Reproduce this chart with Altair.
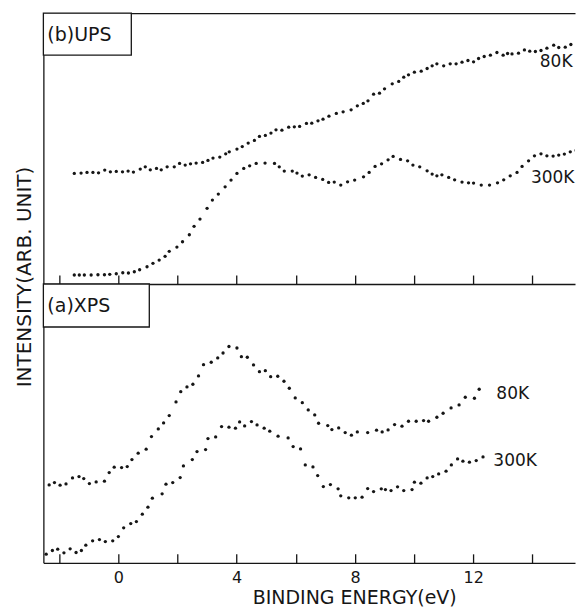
import altair as alt
import pandas as pd

# ---------------- data ----------------
# (b) UPS, 80 K
ups_80k_e = [-1.49, -1.26, -1.06, -0.86, -0.67, -0.46, -0.27, -0.07, 0.14, 0.33,
             0.51, 0.74, 0.91, 1.08, 1.29, 1.45, 1.65, 1.89, 2.07, 2.26,
             2.44, 2.63, 2.85, 3.03, 3.20, 3.43, 3.63, 3.75, 4.01, 4.19,
             4.39, 4.60, 4.77, 4.97, 5.16, 5.33, 5.53, 5.76, 5.95, 6.13,
             6.36, 6.54, 6.75, 6.92, 7.12, 7.37, 7.60, 7.87, 8.08, 8.28,
             8.44, 8.63, 8.83, 9.00, 9.26, 9.48, 9.65, 9.81, 10.01, 10.24,
             10.44, 10.61, 10.77, 11.00, 11.22, 11.42, 11.62, 11.82, 12.01, 12.18,
             12.37, 12.58, 12.80, 13.01, 13.16, 13.31, 13.53, 13.73, 13.91, 14.10,
             14.29, 14.49, 14.72, 14.89, 15.11, 15.30, 15.51, 15.68]
ups_80k_i = [110.7, 111, 111.7, 111.7, 111.3, 114, 112.3, 112.7, 112.3, 113,
             112, 115, 117.3, 114.3, 115.7, 114.3, 117.3, 117.3, 120.7, 119,
             120.3, 121, 121.7, 123.7, 126, 127, 130.3, 132.3, 135, 137.5,
             141, 143.7, 147.7, 148.7, 151, 154.3, 154, 157, 157.3, 157.7,
             160.7, 161, 163.3, 165, 168, 170.7, 172.3, 174.3, 178.3, 180.7,
             183.3, 190, 191, 195.3, 200.3, 202.7, 207, 209.3, 212, 213,
             215.7, 218.3, 220.3, 218.3, 220.3, 220.3, 222, 223.7, 222.3, 225.7,
             227.7, 229, 231.7, 229, 230.7, 230.3, 231, 234.3, 233, 232.7,
             233.7, 236, 239, 236.7, 237, 239.7, 239.3, 241]

# (b) UPS, 300 K
ups_300k_e = [-1.49, -1.32, -1.15, -0.92, -0.69, -0.47, -0.29, -0.07, 0.15, 0.34,
              0.54, 0.72, 0.97, 1.17, 1.38, 1.58, 1.72, 1.98, 2.17, 2.40,
              2.56, 2.76, 3.00, 3.18, 3.38, 3.61, 3.81, 4.01, 4.24, 4.44,
              4.66, 4.96, 5.28, 5.44, 5.61, 5.88, 6.04, 6.22, 6.45, 6.67,
              6.91, 7.11, 7.30, 7.52, 7.75, 7.99, 8.29, 8.48, 8.68, 8.90,
              9.12, 9.29, 9.54, 9.78, 9.96, 10.19, 10.44, 10.61, 10.77, 10.94,
              11.17, 11.37, 11.62, 11.84, 12.01, 12.27, 12.55, 12.82, 13.03, 13.25,
              13.48, 13.65, 13.87, 14.07, 14.29, 14.49, 14.70, 14.89, 15.08, 15.28,
              15.48, 15.71]
ups_300k_i = [9, 9, 9, 9, 9.3, 9.3, 9.7, 10.3, 11.3, 11,
              12.3, 14.3, 17.3, 20.7, 24, 27.7, 32.7, 37, 42.3, 49.3,
              57.7, 65, 75.7, 84, 90, 97.3, 104, 110.7, 115.7, 118.3,
              120.7, 121, 120.7, 117.3, 113, 113, 111, 108, 109.3, 106.7,
              104.7, 101.7, 102, 99, 102.3, 104, 107.3, 111.7, 117.7, 120.3,
              124.3, 127.7, 124.7, 123.3, 119, 117.3, 113.3, 110, 108.3, 109.3,
              106.7, 104.3, 102, 101.3, 101, 99, 99, 101.3, 104.3, 108.3,
              111.7, 117.7, 123.3, 128.3, 130.3, 128.3, 128, 129, 130, 132.3,
              133.7, 136.7]

# (a) XPS, 80 K
xps_80k_e = [-2.34, -2.16, -1.97, -1.77, -1.55, -1.33, -1.17, -0.98, -0.75, -0.47,
             -0.31, -0.14, 0.11, 0.30, 0.46, 0.67, 0.94, 1.12, 1.35, 1.53,
             1.72, 1.95, 2.11, 2.32, 2.52, 2.71, 2.88, 3.14, 3.36, 3.54,
             3.74, 4.01, 4.16, 4.36, 4.57, 4.77, 4.97, 5.15, 5.39, 5.60,
             5.78, 5.98, 6.22, 6.42, 6.64, 6.77, 7.08, 7.22, 7.45, 7.67,
             7.88, 8.08, 8.43, 8.73, 8.92, 9.12, 9.34, 9.59, 9.81, 10.07,
             10.32, 10.49, 10.77, 10.98, 11.25, 11.52, 11.73, 12.04, 12.20]
xps_80k_i = [78, 80.3, 77.7, 79, 85, 86.3, 84.3, 79.3, 81, 81.7,
             90.3, 95.7, 95.3, 96.3, 103.3, 109.7, 113.7, 126.3, 134, 140,
             147.3, 161, 171.3, 176, 178.7, 187, 198.3, 200.7, 205, 210,
             216.5, 215, 206.3, 205.7, 198, 191.3, 192.3, 186.3, 186.7, 181.7,
             174.7, 165, 160.3, 153, 148, 139.7, 137.3, 133.3, 135, 130.3,
             127.7, 131, 130.3, 132.7, 131, 133, 138.3, 136.7, 141.7, 141.7,
             142.3, 141.7, 145.7, 149.7, 155, 158, 165.7, 164.7, 173.7]

# (a) XPS, 300 K
xps_300k_e = [-2.44, -2.23, -2.05, -1.84, -1.63, -1.43, -1.25, -1.10, -0.87, -0.64,
              -0.44, -0.19, 0.00, 0.18, 0.42, 0.61, 0.81, 1.00, 1.15, 1.48,
              1.61, 1.84, 2.09, 2.20, 2.50, 2.66, 2.95, 3.03, 3.29, 3.49,
              3.74, 3.96, 4.10, 4.27, 4.50, 4.69, 4.93, 5.12, 5.40, 5.74,
              5.91, 6.16, 6.32, 6.58, 6.74, 6.93, 7.17, 7.43, 7.52, 7.79,
              8.01, 8.24, 8.43, 8.63, 8.89, 9.03, 9.22, 9.44, 9.65, 9.93,
              10.01, 10.23, 10.44, 10.63, 10.83, 11.08, 11.26, 11.47, 11.65, 11.87,
              12.10, 12.33]
xps_300k_i = [8.7, 12.3, 13.7, 10, 14, 10.3, 12.3, 17.7, 22, 23.3,
              21.3, 22, 26.3, 35, 39.3, 41.3, 48.7, 55.7, 64.7, 69,
              78.7, 80.3, 85.3, 97, 103.3, 111.3, 113.3, 124.3, 126, 136.3,
              135.7, 134.7, 141, 137, 141.3, 138, 134.7, 131.7, 126.7, 125,
              116.3, 114, 98, 96, 87.3, 76.3, 78.3, 74, 67, 65,
              65, 65.7, 74.3, 71.3, 74, 73.3, 72.3, 76, 72.3, 73.3,
              80.7, 79.7, 85, 86.3, 89, 91.7, 98, 104, 101.7, 100.7,
              102.3, 106]

# series labels
ups_label_text = ["80K", "300K"]
ups_label_e = [14.25, 13.95]
ups_label_i = [222, 106]
xps_label_text = ["80K", "300K"]
xps_label_e = [12.78, 12.68]
xps_label_i = [169, 102]

panel_titles = ["(b)UPS", "(a)XPS"]
tick_values = [-2, 0, 2, 4, 6, 8, 10, 12, 14]
label_values = [0, 4, 8, 12]

# ---------------- styling ----------------
FONT = "DejaVu Sans"
INK = "#161616"
W = 532
H_UPS = 271
H_XPS = 279
X_DOMAIN = [-2.535, 15.44]
UPS_DOMAIN = [0, 271]
XPS_DOMAIN = [0, 279]

xscale = alt.Scale(domain=X_DOMAIN, nice=False, zero=False)


def pts_df(e1, i1, e2, i2):
    return pd.DataFrame({
        "E": e1 + e2,
        "I": i1 + i2,
        "T": ["80K"] * len(e1) + ["300K"] * len(e2),
    })


def panel(df, lbl_df, title, box_w, box_h, H, ydom, is_top):
    yscale = alt.Scale(domain=ydom, nice=False, zero=False)
    yaxis = alt.Axis(
        orient="left", domain=True, ticks=False, labels=False, grid=False,
        domainColor=INK, domainWidth=1.3,
        title="INTENSITY(ARB. UNIT)" if is_top else "",
        titleFont=FONT, titleFontSize=20, titleFontWeight="normal",
        titleColor=INK, titlePadding=9, titleY=263.5,
    )
    # inward ticks along the bottom edge (a top axis shifted down)
    tick_axis = alt.Axis(
        orient="top", offset=-H, values=tick_values, tickSize=9,
        tickColor=INK, tickWidth=1.3, domain=True, domainColor=INK,
        domainWidth=1.3, labels=False, grid=False, title="",
    )
    if is_top:
        # top frame line (a bottom axis shifted up)
        second_axis = alt.Axis(
            orient="bottom", offset=-H, ticks=False, labels=False, grid=False,
            domain=True, domainColor=INK, domainWidth=1.3, title="",
        )
    else:
        second_axis = alt.Axis(
            orient="bottom", values=label_values, format="d", ticks=False,
            tickSize=0, domain=False, grid=False, labelFont=FONT,
            labelFontSize=16, labelColor=INK, labelPadding=7, labelFlush=False,
            title="BINDING ENERGY(eV)", titleFont=FONT, titleFontSize=19,
            titleFontWeight="normal", titleColor=INK, titlePadding=3,
            titleX=311,
        )

    points = alt.Chart(df).mark_circle(size=11, color=INK, opacity=1, clip=True).encode(
        x=alt.X("E:Q", scale=xscale, axis=tick_axis),
        y=alt.Y("I:Q", scale=yscale, axis=yaxis),
    )
    labels = alt.Chart(lbl_df).mark_text(
        align="left", baseline="middle", font=FONT, fontSize=17, color=INK
    ).encode(
        x=alt.X("E:Q", scale=xscale, axis=second_axis),
        y=alt.Y("I:Q", scale=yscale, axis=yaxis),
        text="T:N",
    )
    tdf = pd.DataFrame({"T": [title]})
    box = alt.Chart(tdf).mark_rect(fill="white", stroke=INK, strokeWidth=1.3).encode(
        x=alt.value(0), x2=alt.value(box_w), y=alt.value(0), y2=alt.value(box_h)
    )
    box_text = alt.Chart(tdf).mark_text(
        align="left", baseline="middle", font=FONT, fontSize=19, color=INK
    ).encode(x=alt.value(4), y=alt.value(box_h / 2 + 1), text="T:N")

    return alt.layer(points, labels, box, box_text).resolve_axis(x="independent").properties(
        width=W, height=H
    )


ups = panel(
    pts_df(ups_80k_e, ups_80k_i, ups_300k_e, ups_300k_i),
    pd.DataFrame({"E": ups_label_e, "I": ups_label_i, "T": ups_label_text}),
    panel_titles[0], 88, 42, H_UPS, UPS_DOMAIN, True,
)
xps = panel(
    pts_df(xps_80k_e, xps_80k_i, xps_300k_e, xps_300k_i),
    pd.DataFrame({"E": xps_label_e, "I": xps_label_i, "T": xps_label_text}),
    panel_titles[1], 106, 43, H_XPS, XPS_DOMAIN, False,
)

chart = alt.vconcat(ups, xps, spacing=0, bounds="flush").properties(
    padding={"left": 5.4, "top": 3, "right": 0, "bottom": 0},
    background="white",
).configure_view(stroke="transparent")

chart.save("out.html", embed_options={"renderer": "svg", "actions": False})
